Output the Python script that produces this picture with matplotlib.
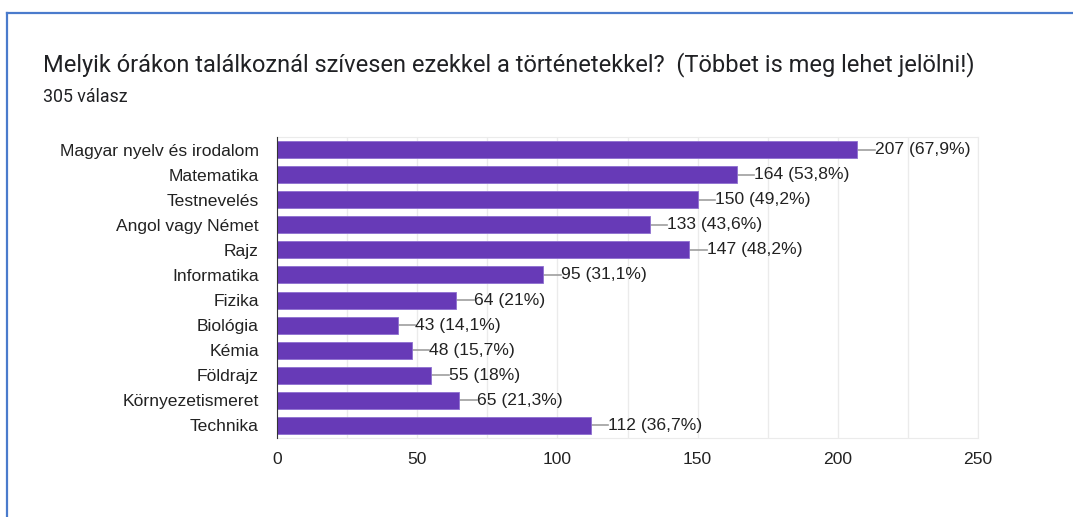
import matplotlib.pyplot as plt
from matplotlib.lines import Line2D

plt.rcParams['font.family'] = ['Liberation Sans', 'DejaVu Sans']

# data
categories = ["Magyar nyelv és irodalom", "Matematika", "Testnevelés", "Angol vagy Német",
              "Rajz", "Informatika", "Fizika", "Biológia", "Kémia", "Földrajz",
              "Környezetismeret", "Technika"]
counts = [207, 164, 150, 133, 147, 95, 64, 43, 48, 55, 65, 112]
percents = ["67,9%", "53,8%", "49,2%", "43,6%", "48,2%", "31,1%", "21%", "14,1%",
            "15,7%", "18%", "21,3%", "36,7%"]
ticks = [0, 50, 100, 150, 200, 250]

fig = plt.figure(figsize=(10.73, 5.17), dpi=100)
ax = fig.add_axes([277 / 1073, 1 - 438 / 517, 701 / 1073, 301 / 517])

# blue card border (left and top)
fig.add_artist(Line2D([7 / 1073, 7 / 1073], [0, 1 - 13 / 517], color="#4a7bcc", lw=1.6))
fig.add_artist(Line2D([7 / 1073, 1], [1 - 13 / 517, 1 - 13 / 517], color="#4a7bcc", lw=1.6))

fig.text(43 / 1073, 1 - 65 / 517, "Melyik órákon találkoznál szívesen ezekkel a történetekkel?  (Többet is meg lehet jelölni!)",
         fontsize=17, color="#202124", va="center", family=["Roboto", "DejaVu Sans"])
fig.text(43 / 1073, 1 - 97 / 517, "305 válasz", fontsize=12.8, color="#202124", va="center",
         family=["Roboto", "DejaVu Sans"])

y = list(range(len(categories)))
ax.barh(y, counts, height=0.68, color="#673ab7", edgecolor="#8e6fd0", linewidth=0.6, zorder=3)

for yi, c, p in zip(y, counts, percents):
    ax.plot([c, c + 6.2], [yi, yi], color="#9e9e9e", lw=1.2, zorder=2)
    ax.text(c + 6.2, yi, f"{c} ({p})", va="center", ha="left", fontsize=12.6, color="#222222")

ax.set_xlim(0, 250)
ax.set_ylim(len(categories) - 0.5, -0.5)
ax.set_xticks(ticks)
ax.set_xticks(range(25, 250, 50), minor=True)
ax.grid(axis="x", which="both", color="#ebebeb", lw=1, zorder=0)
ax.set_yticks(y)
ax.set_yticklabels(categories)
ax.tick_params(axis="both", which="both", length=0, labelsize=12.6, labelcolor="#222222")
ax.tick_params(axis="y", pad=13)
ax.tick_params(axis="x", pad=10)

for s in ["top", "right", "bottom"]:
    ax.spines[s].set_color("#ebebeb")
ax.spines["left"].set_color("#333333")
ax.spines["left"].set_zorder(4)

fig.savefig("out.png", dpi=100)
